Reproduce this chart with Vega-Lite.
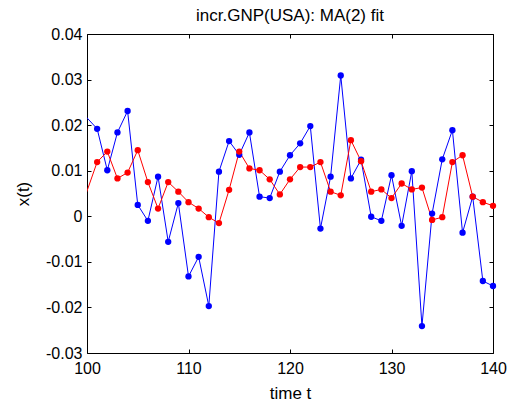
{
  "$schema": "https://vega.github.io/schema/vega-lite/v6.json",
  "autosize": {"type": "none"},
  "width": 406,
  "height": 319,
  "padding": {"left": 87, "top": 34, "right": 15, "bottom": 51},
  "background": "white",
  "config": {
    "view": {"stroke": "black", "strokeWidth": 1},
    "font": "Liberation Sans",
    "axis": {"grid": false, "domain": false, "tickColor": "black", "labelColor": "black", "titleColor": "black", "labelFont": "Liberation Sans", "titleFont": "Liberation Sans", "labelFontSize": 16, "titleFontSize": 17, "titleFontWeight": "normal", "tickSize": -4, "labelFlush": false, "labelOverlap": false}
  },
  "title": {"text": "incr.GNP(USA): MA(2) fit", "font": "Liberation Sans", "fontSize": 17, "fontWeight": "normal", "color": "black", "offset": 1},
  "data": {"values": [
    {"x": 99, "v": 0.024, "s": "data"},
    {"x": 101, "v": 0.0192, "s": "data"},
    {"x": 102, "v": 0.0101, "s": "data"},
    {"x": 103, "v": 0.0184, "s": "data"},
    {"x": 104, "v": 0.0231, "s": "data"},
    {"x": 105, "v": 0.0025, "s": "data"},
    {"x": 106, "v": -0.001, "s": "data"},
    {"x": 107, "v": 0.0087, "s": "data"},
    {"x": 108, "v": -0.0056, "s": "data"},
    {"x": 109, "v": 0.0029, "s": "data"},
    {"x": 110, "v": -0.0132, "s": "data"},
    {"x": 111, "v": -0.0089, "s": "data"},
    {"x": 112, "v": -0.0197, "s": "data"},
    {"x": 113, "v": 0.0098, "s": "data"},
    {"x": 114, "v": 0.0165, "s": "data"},
    {"x": 115, "v": 0.0135, "s": "data"},
    {"x": 116, "v": 0.0184, "s": "data"},
    {"x": 117, "v": 0.0043, "s": "data"},
    {"x": 118, "v": 0.004, "s": "data"},
    {"x": 119, "v": 0.0098, "s": "data"},
    {"x": 120, "v": 0.0134, "s": "data"},
    {"x": 121, "v": 0.016, "s": "data"},
    {"x": 122, "v": 0.0198, "s": "data"},
    {"x": 123, "v": -0.0027, "s": "data"},
    {"x": 124, "v": 0.0087, "s": "data"},
    {"x": 125, "v": 0.0309, "s": "data"},
    {"x": 126, "v": 0.0083, "s": "data"},
    {"x": 127, "v": 0.0124, "s": "data"},
    {"x": 128, "v": -0.0001, "s": "data"},
    {"x": 129, "v": -0.001, "s": "data"},
    {"x": 130, "v": 0.009, "s": "data"},
    {"x": 131, "v": -0.0021, "s": "data"},
    {"x": 132, "v": 0.0099, "s": "data"},
    {"x": 133, "v": -0.0241, "s": "data"},
    {"x": 134, "v": 0.0006, "s": "data"},
    {"x": 135, "v": 0.0125, "s": "data"},
    {"x": 136, "v": 0.0189, "s": "data"},
    {"x": 137, "v": -0.0036, "s": "data"},
    {"x": 138, "v": 0.0043, "s": "data"},
    {"x": 139, "v": -0.0142, "s": "data"},
    {"x": 140, "v": -0.0153, "s": "data"},
    {"x": 99, "v": -0.0008, "s": "fit"},
    {"x": 101, "v": 0.0119, "s": "fit"},
    {"x": 102, "v": 0.0142, "s": "fit"},
    {"x": 103, "v": 0.0083, "s": "fit"},
    {"x": 104, "v": 0.0096, "s": "fit"},
    {"x": 105, "v": 0.0145, "s": "fit"},
    {"x": 106, "v": 0.0075, "s": "fit"},
    {"x": 107, "v": 0.0017, "s": "fit"},
    {"x": 108, "v": 0.0075, "s": "fit"},
    {"x": 109, "v": 0.0054, "s": "fit"},
    {"x": 110, "v": 0.0031, "s": "fit"},
    {"x": 111, "v": 0.0017, "s": "fit"},
    {"x": 112, "v": -0.0002, "s": "fit"},
    {"x": 113, "v": -0.0015, "s": "fit"},
    {"x": 114, "v": 0.0058, "s": "fit"},
    {"x": 115, "v": 0.0142, "s": "fit"},
    {"x": 116, "v": 0.0105, "s": "fit"},
    {"x": 117, "v": 0.0101, "s": "fit"},
    {"x": 118, "v": 0.0081, "s": "fit"},
    {"x": 119, "v": 0.0048, "s": "fit"},
    {"x": 120, "v": 0.0081, "s": "fit"},
    {"x": 121, "v": 0.0108, "s": "fit"},
    {"x": 122, "v": 0.0108, "s": "fit"},
    {"x": 123, "v": 0.0119, "s": "fit"},
    {"x": 124, "v": 0.0054, "s": "fit"},
    {"x": 125, "v": 0.0046, "s": "fit"},
    {"x": 126, "v": 0.0167, "s": "fit"},
    {"x": 127, "v": 0.0121, "s": "fit"},
    {"x": 128, "v": 0.0054, "s": "fit"},
    {"x": 129, "v": 0.0059, "s": "fit"},
    {"x": 130, "v": 0.004, "s": "fit"},
    {"x": 131, "v": 0.0072, "s": "fit"},
    {"x": 132, "v": 0.0059, "s": "fit"},
    {"x": 133, "v": 0.0063, "s": "fit"},
    {"x": 134, "v": -0.0008, "s": "fit"},
    {"x": 135, "v": -0.0002, "s": "fit"},
    {"x": 136, "v": 0.0119, "s": "fit"},
    {"x": 137, "v": 0.0134, "s": "fit"},
    {"x": 138, "v": 0.0043, "s": "fit"},
    {"x": 139, "v": 0.0031, "s": "fit"},
    {"x": 140, "v": 0.0023, "s": "fit"}
  ]},
  "layer": [
    {
      "mark": {"type": "line", "strokeWidth": 1, "clip": true},
      "encoding": {
        "x": {"field": "x", "type": "quantitative", "scale": {"domain": [100, 140], "nice": false, "zero": false}, "axis": {"title": "time t", "values": [100, 110, 120, 130, 140], "labelPadding": 11, "titlePadding": 9}},
        "y": {"field": "v", "type": "quantitative", "scale": {"domain": [-0.03, 0.04], "nice": false, "zero": false}, "axis": {"title": "x(t)", "values": [-0.03, -0.02, -0.01, 0, 0.01, 0.02, 0.03, 0.04], "labelExpr": "abs(datum.value) < 1e-9 ? '0' : (datum.value < 0 ? '-' : '') + format(abs(datum.value), '.2f')", "labelPadding": 9, "titlePadding": 13}},
        "color": {"field": "s", "type": "nominal", "scale": {"domain": ["data", "fit"], "range": ["#0000ff", "#ff0000"]}, "legend": null},
        "order": {"field": "x"}
      }
    },
    {
      "transform": [{"filter": "datum.x >= 100"}],
      "mark": {"type": "point", "filled": true, "size": 40, "opacity": 1, "shape": "circle"},
      "encoding": {
        "x": {"field": "x", "type": "quantitative", "scale": {"domain": [100, 140], "nice": false, "zero": false}, "axis": null},
        "y": {"field": "v", "type": "quantitative", "scale": {"domain": [-0.03, 0.04], "nice": false, "zero": false}, "axis": null},
        "color": {"field": "s", "type": "nominal", "legend": null}
      }
    },
    {
      "transform": [{"filter": "datum.x >= 100"}],
      "mark": {"type": "point", "opacity": 0},
      "encoding": {
        "x": {"field": "x", "type": "quantitative", "scale": {"domain": [100, 140], "nice": false, "zero": false}, "axis": {"orient": "top", "values": [100, 110, 120, 130, 140], "labels": false, "title": null}},
        "y": {"field": "v", "type": "quantitative", "scale": {"domain": [-0.03, 0.04], "nice": false, "zero": false}, "axis": {"orient": "right", "values": [-0.03, -0.02, -0.01, 0, 0.01, 0.02, 0.03, 0.04], "labels": false, "title": null}}
      }
    }
  ],
  "resolve": {"axis": {"x": "independent", "y": "independent"}}
}
